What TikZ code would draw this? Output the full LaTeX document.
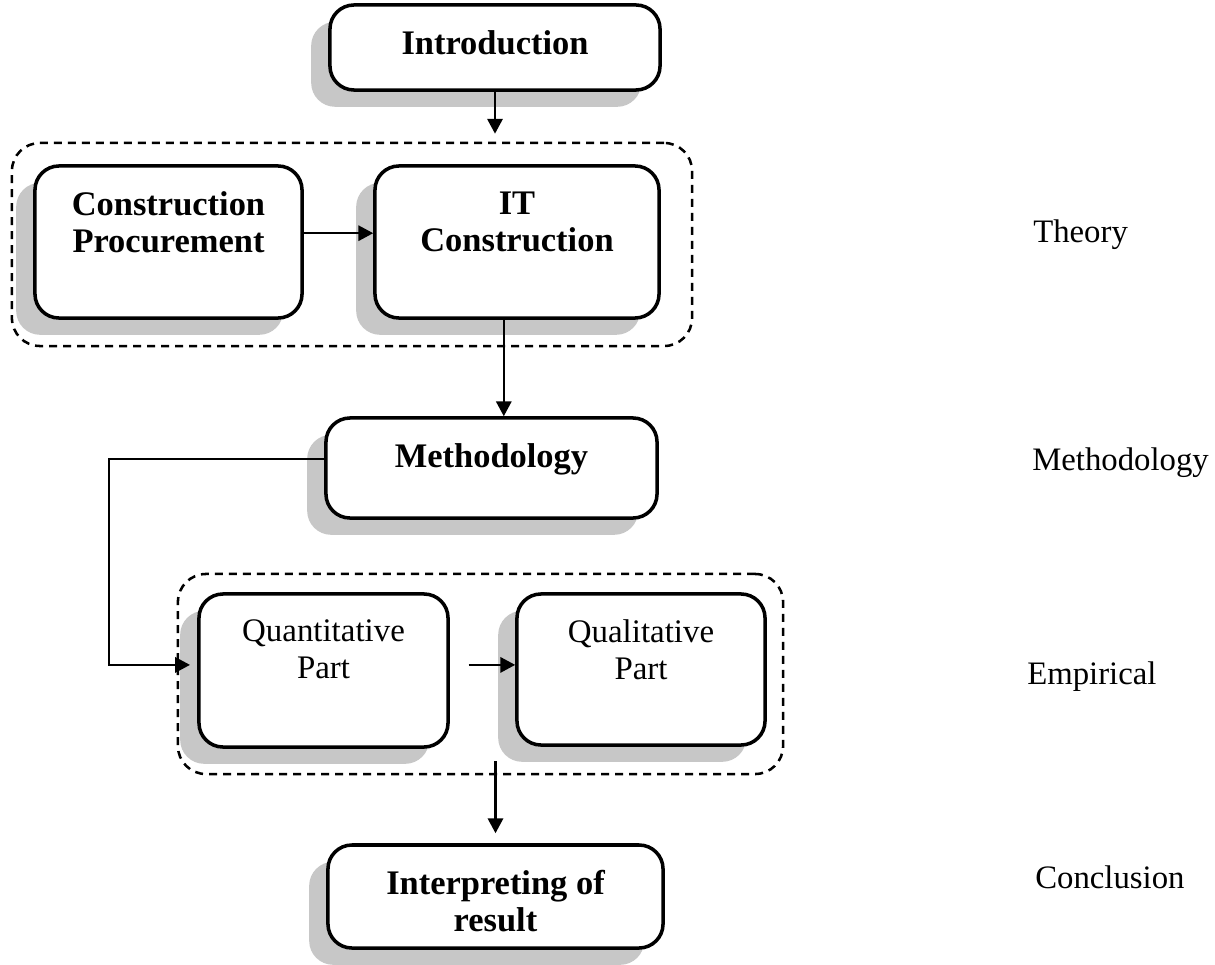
\documentclass[tikz,border=0pt]{standalone}
\usepackage{fontspec}
\setmainfont{Liberation Serif}
\usetikzlibrary{arrows.meta,shadows}
\tikzset{
  box/.style     = {rectangle, rounded corners=0.6cm, draw, line width=2.5pt, fill=white,
                    drop shadow={shadow xshift=-0.47cm, shadow yshift=-0.42cm,
                                 fill=black!22, opacity=1}},
  boxtext/.style = {anchor=north, yshift=-0.68cm, inner sep=0pt, align=center},
  hd/.style      = {font=\fontsize{24.5}{26.3}\selectfont\bfseries},
  rg/.style      = {font=\fontsize{23.4}{26.3}\selectfont},
  group/.style   = {rectangle, rounded corners=0.7cm, draw, line width=1.8pt,
                    dash pattern=on 0.2cm off 0.15cm},
  flow/.style    = {-{Triangle[length=0.37cm,width=0.38cm]}, line width=1.7pt},
  phase/.style   = {anchor=west, inner sep=0pt, font=\fontsize{23.3}{26}\selectfont},
}

\begin{document}
\begin{tikzpicture}[x=0.025cm, y=-0.025cm]
  \useasboundingbox (0,0) rectangle (1215,965);

  % dashed groups behind the boxes
  \node[group, minimum width=17cm, minimum height=5.075cm] (theory) at (352,244.5) {};
  \node[group, minimum width=15.125cm, minimum height=5cm] (empirical) at (480.5,674) {};

  \node[box, minimum width=8.25cm, minimum height=2.125cm,
        label={[boxtext,hd]north:Introduction}] (intro) at (495,47.5) {};
  \node[box, minimum width=6.675cm, minimum height=3.8cm,
        label={[boxtext,hd]north:Construction\\Procurement}] (cp) at (168.5,242) {};
  \node[box, minimum width=7.1cm, minimum height=3.8cm,
        label={[boxtext,hd]north:IT\\Construction}] (it) at (517,242) {};
  \node[box, minimum width=8.275cm, minimum height=2.5cm,
        label={[boxtext,hd]north:Methodology}] (meth) at (491.5,468) {};
  \node[box, minimum width=6.225cm, minimum height=3.825cm,
        label={[boxtext,rg]north:Quantitative\\Part}] (quant) at (323.5,670.5) {};
  \node[box, minimum width=6.2cm, minimum height=3.775cm,
        label={[boxtext,rg]north:Qualitative\\Part}] (qual) at (641,669.5) {};
  \node[box, minimum width=8.375cm, minimum height=2.575cm,
        label={[boxtext,hd]north:Interpreting of\\result}] (interp) at (495.5,896.5) {};

  % phases on the right
  \node[phase] (lblth) at (1033,235) {Theory};
  \node[phase] (lblme) at (1032,463) {Methodology};
  \node[phase] (lblem) at (1027,677) {Empirical};
  \node[phase] (lblco) at (1035,877) {Conclusion};

  \draw[flow, shorten >=0.2cm] (intro.south) -- (intro.south |- theory.north);
  \draw[flow] ([yshift=0.22cm]cp.east) -- ([yshift=0.22cm]cp.east -| it.west);
  \draw[flow] ([xshift=-0.33cm]it.south) -- ([xshift=-0.33cm]it.south |- meth.north);
  \draw[flow, shorten >=0.18cm] ([yshift=0.22cm]meth.west) -- ++(-215,0)
    |- ([yshift=0.14cm]quant.west);
  \draw[flow, shorten <=0.47cm] ([yshift=0.14cm]quant.east) -- ([yshift=0.14cm]quant.east -| qual.west);
  \draw[flow, shorten >=0.25cm] ([yshift=0.35cm]interp.north |- empirical.south) -- (interp.north);
\end{tikzpicture}
\end{document}
